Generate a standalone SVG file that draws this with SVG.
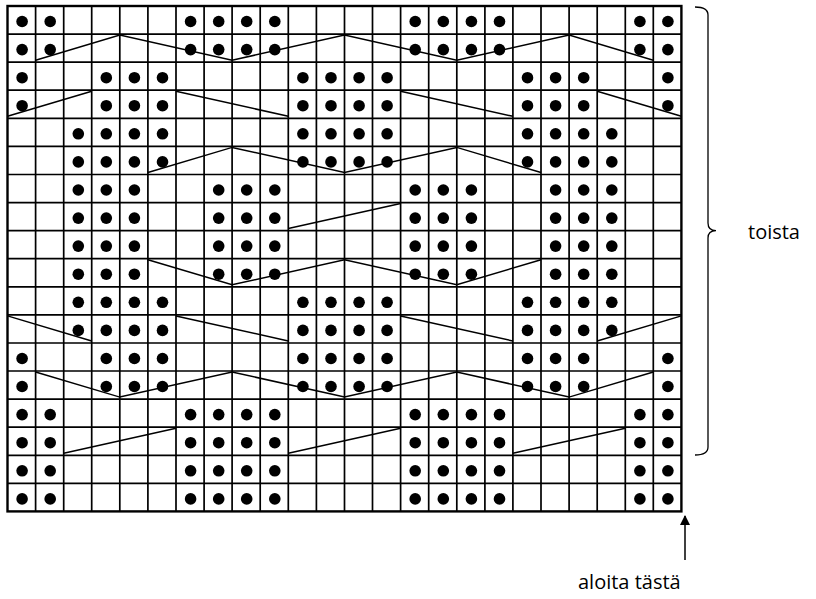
<svg xmlns="http://www.w3.org/2000/svg" xmlns:xlink="http://www.w3.org/1999/xlink" width="816" height="599" viewBox="0 0 816 599">
<style>
.grid{fill:none;stroke:#000;stroke-width:1.7}
.border{fill:none;stroke:#000;stroke-width:2.4}
.cable{fill:none;stroke:#000;stroke-width:1.5;stroke-linejoin:miter}
.lbl{font-family:"Open Sans","Liberation Sans",sans-serif;font-size:20px;fill:#000}
.br{fill:none;stroke:#000;stroke-width:1.3}
</style>
<defs>
<circle id="d" r="5.8" fill="#000"/>
<g id="rA"><use href="#d" x="22.1"/><use href="#d" x="50.2"/><use href="#d" x="190.6"/><use href="#d" x="218.7"/><use href="#d" x="246.7"/><use href="#d" x="274.8"/><use href="#d" x="415.2"/><use href="#d" x="443.3"/><use href="#d" x="471.4"/><use href="#d" x="499.5"/><use href="#d" x="639.9"/><use href="#d" x="667.9"/></g>
<g id="rB"><use href="#d" x="22.1"/><use href="#d" x="106.3"/><use href="#d" x="134.4"/><use href="#d" x="162.5"/><use href="#d" x="302.9"/><use href="#d" x="331"/><use href="#d" x="359.1"/><use href="#d" x="387.1"/><use href="#d" x="527.5"/><use href="#d" x="555.6"/><use href="#d" x="583.7"/><use href="#d" x="667.9"/></g>
<g id="rC"><use href="#d" x="78.3"/><use href="#d" x="106.3"/><use href="#d" x="134.4"/><use href="#d" x="162.5"/><use href="#d" x="302.9"/><use href="#d" x="331"/><use href="#d" x="359.1"/><use href="#d" x="387.1"/><use href="#d" x="527.5"/><use href="#d" x="555.6"/><use href="#d" x="583.7"/><use href="#d" x="611.8"/></g>
<g id="rD"><use href="#d" x="78.3"/><use href="#d" x="106.3"/><use href="#d" x="134.4"/><use href="#d" x="218.7"/><use href="#d" x="246.7"/><use href="#d" x="274.8"/><use href="#d" x="415.2"/><use href="#d" x="443.3"/><use href="#d" x="471.4"/><use href="#d" x="555.6"/><use href="#d" x="583.7"/><use href="#d" x="611.8"/></g>
<marker id="ah" viewBox="0 0 10 10" refX="9" refY="5" markerWidth="10" markerHeight="10" markerUnits="userSpaceOnUse" orient="auto"><path d="M0,0 L10,5 L0,10 Z" fill="#000"/></marker>
</defs>
<rect width="816" height="599" fill="#fff"/>
<g id="chart-grid">
<path class="grid" d="M35.6,6V511.4M63.7,6V511.4M91.7,6V511.4M119.8,6V511.4M147.9,6V511.4M176,6V511.4M204.1,6V511.4M232.1,6V511.4M260.2,6V511.4M288.3,6V511.4M316.4,6V511.4M344.5,6V511.4M372.5,6V511.4M400.6,6V511.4M428.7,6V511.4M456.8,6V511.4M484.9,6V511.4M512.9,6V511.4M541,6V511.4M569.1,6V511.4M597.2,6V511.4M625.3,6V511.4M653.3,6V511.4"/>
<path class="grid" d="M7.5,34.1H681.4M7.5,62.2H681.4M7.5,90.2H681.4M7.5,118.3H681.4M7.5,146.4H681.4M7.5,174.5H681.4M7.5,202.6H681.4M7.5,230.6H681.4M7.5,258.7H681.4M7.5,286.8H681.4M7.5,314.9H681.4M7.5,343H681.4M7.5,371H681.4M7.5,399.1H681.4M7.5,427.2H681.4M7.5,455.3H681.4M7.5,483.4H681.4"/>
<rect class="border" x="7.5" y="6" width="673.9" height="505.4"/>
</g>
<g id="dots">
<use href="#rA" y="21.5"/>
<use href="#rA" y="49.6"/>
<use href="#rB" y="77.7"/>
<use href="#rB" y="105.7"/>
<use href="#rC" y="133.8"/>
<use href="#rC" y="161.9"/>
<use href="#rD" y="190"/>
<use href="#rD" y="218.1"/>
<use href="#rD" y="246.1"/>
<use href="#rD" y="274.2"/>
<use href="#rC" y="302.3"/>
<use href="#rC" y="330.4"/>
<use href="#rB" y="358.5"/>
<use href="#rB" y="386.5"/>
<use href="#rA" y="414.6"/>
<use href="#rA" y="442.7"/>
<use href="#rA" y="470.8"/>
<use href="#rA" y="498.9"/>
</g>
<g id="connectors">
<polyline class="cable" points="35.6,60.2 119.8,35.1 232.1,60.2 344.5,35.1 456.8,60.2 569.1,35.1 653.3,60.2"/>
<path class="cable" d="M7.5,116.3L91.7,91.2M176,91.2L288.3,116.3M400.6,91.2L512.9,116.3M597.2,91.2L681.4,116.3"/>
<polyline class="cable" points="147.9,172.5 232.1,147.4 344.5,172.5 456.8,147.4 541,172.5"/>
<path class="cable" d="M288.3,228.6L400.6,203.6"/>
<polyline class="cable" points="147.9,259.7 232.1,284.8 344.5,259.7 456.8,284.8 541,259.7"/>
<path class="cable" d="M7.5,315.9L91.7,341M176,315.9L288.3,341M400.6,315.9L512.9,341M597.2,341L681.4,315.9"/>
<polyline class="cable" points="35.6,372 119.8,397.1 232.1,372 344.5,397.1 456.8,372 569.1,397.1 653.3,372"/>
<path class="cable" d="M63.7,453.3L176,428.2M288.3,453.3L400.6,428.2M512.9,453.3L625.3,428.2"/>
<line class="cable" x1="685" y1="560" x2="685" y2="516" marker-end="url(#ah)"/>
</g>
<g id="repeat-bracket">
<path class="br" d="M695,7 Q708,7 708,15 L708,223 Q708,230.6 716,230.6 Q708,230.6 708,238 L708,447 Q708,455 695,455"/>
<text class="lbl" x="748" y="239">toista</text>
</g>
<g id="start-label">
<text class="lbl" x="578" y="589">aloita tästä</text>
</g>
</svg>
